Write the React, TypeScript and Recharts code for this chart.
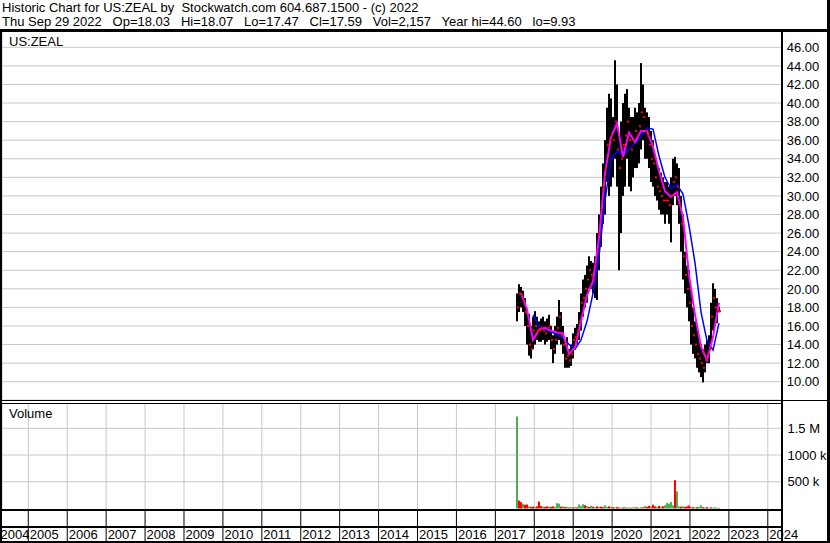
import React from 'react';
import { ComposedChart, Bar, Line, Scatter, XAxis, YAxis, CartesianGrid, Cell } from 'recharts';

// ---- data ----
const T0 = 2017.556; // date of first bar (decimal year)
const STEP = 0.05139; // spacing between sampled bars (decimal years)

const barLow = [
  16.5, 17.5, 18, 17.5, 16, 14, 12.8, 12.5, 13.5, 14,
  14.5, 14.3, 14.3, 14.5, 14, 14.3, 14.5, 13.5, 12, 13,
  14, 14.5, 14, 13, 11.5, 11.5, 11.5, 11.7, 12.5, 13.5,
  14, 14.5, 15.5, 17, 18, 18.5, 20, 20, 19.5, 19,
  18.8, 22, 24.5, 27, 28, 31.5, 30, 31, 32, 34,
  31, 22, 26, 30, 31, 34, 31, 30.5, 32, 33,
  33, 33.5, 35, 36, 34, 34, 33, 31.5, 31, 30,
  29.5, 28.5, 28, 28, 27, 28, 27, 25, 29, 30,
  29, 27, 24, 21, 19.5, 18, 16.5, 14, 13, 12.5,
  11.5, 11, 10.5, 9.93, 11, 12, 12, 14, 15.5, 16,
  16.3, 17.47,
];
const barHigh = [
  19.5, 20.5, 20.2, 19.8, 19, 17.8, 17.3, 16, 17, 17.6,
  17, 16.5, 16.8, 17, 16.5, 16.8, 17.2, 16, 15, 16,
  17, 18.8, 17.5, 16, 14.5, 14.8, 13.5, 14, 15.2, 15.8,
  16.2, 17.5, 19.5, 21, 21.5, 22.5, 23.5, 23, 22.8, 23.5,
  26, 28, 31, 33.5, 36, 39.5, 41, 40.5, 38.5, 44.6,
  42, 36.5, 38, 40, 41, 41.5, 39.5, 38.5, 38.5, 39.5,
  39, 40, 44.3, 42, 39.5, 39, 38.5, 37, 36, 34.5,
  33.5, 33, 32.5, 32, 31.5, 31.5, 31, 32, 34, 34.2,
  33.5, 33, 30, 28, 24, 22.5, 22, 20, 18, 16.5,
  16, 15, 14, 13.5, 14, 14.5, 15, 18.5, 20.6, 20,
  19, 18.07,
];
const barClose = [
  18, 19.5, 19.3, 18.8, 17.5, 16, 14, 13.5, 15.5, 16,
  15.5, 15.5, 15.8, 15.5, 15.2, 15.8, 16, 14.5, 13.5, 14.5,
  15.8, 17, 15, 14, 12.5, 12.8, 12.3, 13, 14.5, 14.8,
  15.5, 16.5, 18.5, 19, 20, 21, 22, 21.5, 21, 22.5,
  24, 26, 28.5, 31, 33, 35.5, 36, 36.5, 36, 38,
  35, 33, 34, 35.5, 36.5, 38, 36, 35, 36, 37,
  36.5, 37.5, 39, 38.5, 37, 36.5, 35.5, 34, 33.5, 32,
  31, 30.5, 30, 29.5, 29.5, 29.5, 29, 30, 31.5, 32,
  31, 29, 27, 23.5, 21.5, 20, 18.5, 16, 15, 14,
  13, 12.5, 12, 11.5, 12.5, 13, 13.5, 17, 19, 18,
  17.6, 17.59,
];
const volume = [
  1720000, 150000, 120000, 90000, 70000, 75000, 40000, 30000, 35000, 30000,
  40000, 130000, 45000, 35000, 30000, 40000, 35000, 30000, 40000, 30000,
  100000, 90000, 35000, 40000, 25000, 30000, 20000, 25000, 20000, 25000,
  20000, 75000, 45000, 80000, 60000, 45000, 30000, 50000, 35000, 25000,
  40000, 30000, 35000, 25000, 60000, 30000, 40000, 30000, 25000, 20000,
  25000, 20000, 15000, 20000, 25000, 15000, 20000, 15000, 20000, 25000,
  20000, 15000, 25000, 20000, 45000, 30000, 50000, 35000, 70000, 40000,
  30000, 45000, 35000, 40000, 60000, 100000, 90000, 120000, 60000, 530000,
  320000, 40000, 35000, 40000, 30000, 40000, 55000, 30000, 25000, 20000,
  25000, 30000, 60000, 25000, 20000, 25000, 15000, 20000, 15000, 20000,
  15000, 10000,
];
// g = up day (green), r = down day (red)
const volDirection =
  'grrgrrgrrg' + 'rrrgrrgrrg' + 'ggrgrgrgrg' + 'rgggrgrgrg' + 'rgrrggrgrg' +
  'rrgrgrgrgg' + 'rggrgrrgrr' + 'grgrgggggr' + 'ggrgrrrgrg' + 'rggrgrgrgg' + 'gr';

const maFastStartBar = 2; // moving averages sampled every 3rd bar
const maFast = [
  19.5, 17.8, 14.5, 15.6, 15.8, 15.5, 15.3, 15.2, 13, 13.7,
  16.5, 19.3, 20.8, 25.5, 32.4, 36.3, 37.8, 34.2, 36.8, 35.8,
  37, 37, 35.3, 32.7, 30.5, 29.9, 30.4, 27.7, 21.5, 17.2,
  13.8, 12.3, 14.8, 18.5,
];
const maSlowStartBar = 8;
const maSlow = [
  17.2, 16, 15.6, 15.4, 15, 14.7, 14, 13.5, 14.5, 16.5,
  19.5, 23.5, 29.5, 33.9, 34.8, 34.4, 35, 35.7, 36.4, 37.3,
  37.2, 34.3, 32, 30.8, 31.2, 30.2, 26.8, 22.8, 17.5, 14.4,
  13.4, 16.3,
];

const yearTicks = [2005, 2006, 2007, 2008, 2009, 2010, 2011, 2012, 2013, 2014, 2015, 2016, 2017, 2018, 2019, 2020, 2021, 2022, 2023, 2024];
const firstYearLabel = 2004;
const priceTicks = [10, 12, 14, 16, 18, 20, 22, 24, 26, 28, 30, 32, 34, 36, 38, 40, 42, 44, 46];
const volTicks = [500000, 1000000, 1500000];
const volTickLabels = ['500 k', '1000 k', '1.5 M'];

const headerLine1 = 'Historic Chart for US:ZEAL by  Stockwatch.com 604.687.1500 - (c) 2022';
const headerLine2 = 'Thu Sep 29 2022   Op=18.03   Hi=18.07   Lo=17.47   Cl=17.59   Vol=2,157   Year hi=44.60   lo=9.93';

// ---- derived tables ----
const X_DOMAIN: [number, number] = [2004.324, 2024.365];
const barT = (i: number) => T0 + i * STEP;
const priceRows = barLow.map((lo, i) => ({ t: barT(i), range: [lo, barHigh[i]], close: barClose[i] }));
const volRows = volume.map((v, i) => ({ t: barT(i), vol: v, up: volDirection[i] === 'g' }));
const fastRows = maFast.map((v, k) => ({ t: barT(maFastStartBar + k * 3), v }));
const slowRows = maSlow.map((v, k) => ({ t: barT(maSlowStartBar + k * 3), v }));

const FONT = '"Liberation Sans", Arial, Helvetica, sans-serif';
const GRID = '#c8c8c8';

const PriceTick = (props: any) => {
  const { x, y, payload } = props;
  return (
    <text x={x + 4.7} y={y + 4.7} fontSize={13} fontFamily={FONT} fill="#000" textAnchor="start">
      {Number(payload.value).toFixed(2)}
    </text>
  );
};

const VolTick = (props: any) => {
  const { x, y, payload } = props;
  const idx = volTicks.indexOf(payload.value);
  return (
    <text x={x + 5.5} y={y + 4.7} fontSize={13} fontFamily={FONT} fill="#000" textAnchor="start">
      {volTickLabels[idx]}
    </text>
  );
};

const YearTick = (props: any) => {
  const { x, y, payload } = props;
  const first = payload.value < yearTicks[0];
  const label = first ? String(firstYearLabel) : String(Math.round(payload.value));
  return (
    <g>
      {!first && <line x1={x} x2={x} y1={y} y2={y + 33} stroke="#000" strokeWidth={1} />}
      <text x={first ? x - 1.5 : x + 1.5} y={y + 29} fontSize={13} fontFamily={FONT} fill="#000" textAnchor="start">
        {label}
      </text>
    </g>
  );
};

const CloseMark = (props: any) => {
  const { cx, cy } = props;
  if (cx == null || cy == null) return <g />;
  return <rect x={cx} y={cy - 1} width={2} height={2} fill="#ff0000" />;
};

const abs = (left: number, top: number, width: number, height: number, bg = '#000'): React.CSSProperties => ({
  position: 'absolute', left, top, width, height, background: bg,
});

export default function App() {
  return (
    <div style={{ position: 'absolute', left: 0, top: 0, width: 830, height: 543, background: '#fff', overflow: 'hidden', fontFamily: FONT }}>
      <div style={{ position: 'absolute', left: 2, top: 1, fontSize: 13, lineHeight: '14px', whiteSpace: 'pre', color: '#000' }}>
        {headerLine1}
      </div>
      <div style={{ position: 'absolute', left: 2, top: 15, fontSize: 13, lineHeight: '14px', whiteSpace: 'pre', color: '#000' }}>
        {headerLine2}
      </div>

      <div style={{ position: 'absolute', left: 0, top: 31 }}>
        <ComposedChart width={830} height={369} data={priceRows} margin={{ top: 0, right: 0, bottom: 0, left: 2 }}>
          <CartesianGrid stroke={GRID} strokeWidth={1} />
          <XAxis dataKey="t" type="number" domain={X_DOMAIN} ticks={yearTicks} allowDataOverflow height={0}
            axisLine={false} tickLine={false} tick={false} interval={0} />
          <YAxis orientation="right" type="number" domain={[8.03, 47.755]} ticks={priceTicks} allowDataOverflow width={48}
            axisLine={false} tickLine={false} tickSize={0} tickMargin={0} tick={<PriceTick />} interval={0} />
          <Bar dataKey="range" fill="#000" barSize={2} isAnimationActive={false} />
          <Scatter dataKey="close" shape={CloseMark} isAnimationActive={false} />
          <Line data={slowRows} dataKey="v" type="linear" stroke="#0000ff" strokeWidth={1.5} dot={false} isAnimationActive={false} />
          <Line data={fastRows} dataKey="v" type="linear" stroke="#ff00ff" strokeWidth={2} dot={false} isAnimationActive={false} />
        </ComposedChart>
      </div>

      <div style={{ position: 'absolute', left: 0, top: 403 }}>
        <ComposedChart width={830} height={140} data={volRows} margin={{ top: 0, right: 0, bottom: 0, left: 2 }}>
          <CartesianGrid stroke={GRID} strokeWidth={1} />
          <XAxis dataKey="t" type="number" domain={X_DOMAIN} ticks={[X_DOMAIN[0], ...yearTicks]} allowDataOverflow height={33}
            axisLine={false} tickLine={false} tickSize={0} tickMargin={0} tick={<YearTick />} interval={0} />
          <YAxis orientation="right" type="number" domain={[-28058, 1973438]} ticks={volTicks} allowDataOverflow width={48}
            axisLine={false} tickLine={false} tickSize={0} tickMargin={0} tick={<VolTick />} interval={0} />
          <Bar dataKey="vol" barSize={2} isAnimationActive={false}>
            {volRows.map((r, i) => (
              <Cell key={i} fill={r.up ? '#4caf50' : '#ff0000'} />
            ))}
          </Bar>
        </ComposedChart>
      </div>

      <div style={{ position: 'absolute', left: 9, top: 33.5, fontSize: 13, lineHeight: '16px', color: '#000' }}>US:ZEAL</div>
      <div style={{ position: 'absolute', left: 9, top: 405.5, fontSize: 13, lineHeight: '16px', color: '#000' }}>Volume</div>

      {/* frame */}
      <div style={abs(0, 29, 830, 3)} />
      <div style={abs(0, 29, 2, 514)} />
      <div style={abs(827, 0, 3, 543)} />
      <div style={abs(781, 29, 2, 514)} />
      <div style={abs(0, 400, 830, 1)} />
      <div style={abs(0, 403, 782, 1)} />
      <div style={abs(0, 509, 782, 2)} />
      <div style={abs(0, 526, 782, 2)} />
      <div style={abs(0, 541, 830, 2)} />
    </div>
  );
}
